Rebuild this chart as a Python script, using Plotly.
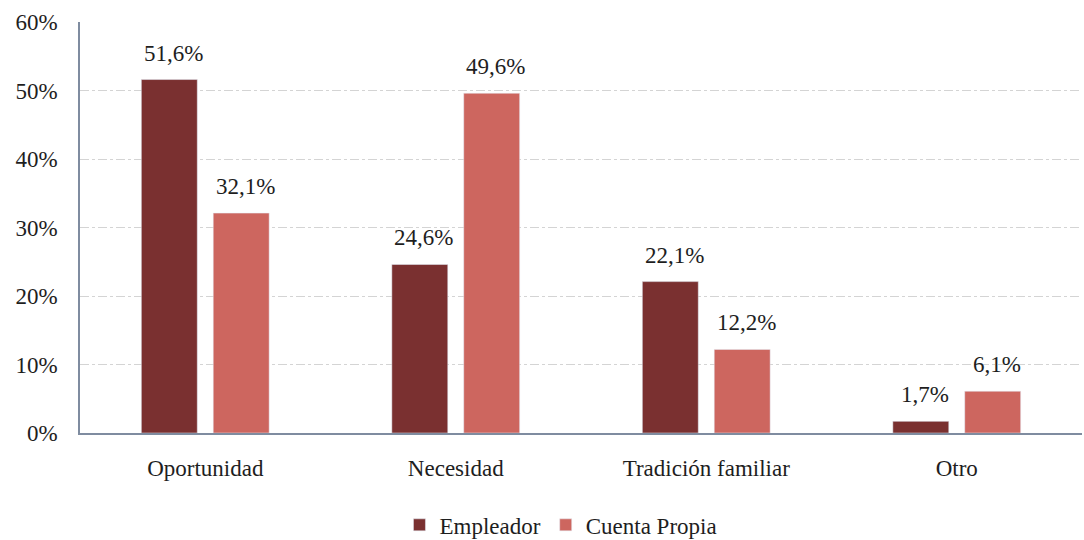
import plotly.graph_objects as go

categories = ["Oportunidad", "Necesidad", "Tradición familiar", "Otro"]
empleador = [51.6, 24.6, 22.1, 1.7]
cuenta_propia = [32.1, 49.6, 12.2, 6.1]
y_ticks = [0, 10, 20, 30, 40, 50, 60]

FONT = "Liberation Serif"
C1 = "#7A3030"
C2 = "#CD665F"
TXT = "#1E1E1E"
SIZE = 23

def fmt(v):
    return f"{v:.1f}%".replace(".", ",")

fig = go.Figure()
fig.add_trace(go.Bar(name="Empleador", x=categories, y=empleador, marker_color=C1,
                     offsetgroup="a"))
fig.add_trace(go.Bar(name="Cuenta Propia", x=categories, y=cuenta_propia, marker_color=C2,
                     offsetgroup="b"))

for i, c in enumerate(categories):
    for vals, off in ((empleador, -0.5), (cuenta_propia, 0.5)):
        fig.add_annotation(x=c, y=vals[i], text=fmt(vals[i]), showarrow=False,
                           xref="x", yref="y", yanchor="bottom", yshift=12,
                           xshift=off * 72 + 4,
                           font=dict(family=FONT, size=SIZE, color=TXT))

fig.update_layout(
    width=1084, height=540,
    margin=dict(l=80, r=2, t=22, b=107, autoexpand=False),
    paper_bgcolor="white", plot_bgcolor="white",
    barmode="group", bargap=0.426, bargroupgap=0.222,
    font=dict(family=FONT, size=SIZE, color=TXT),
    legend=dict(orientation="h", x=0.48, xanchor="center",
                yref="container", y=0.028, yanchor="middle",
                font=dict(family=FONT, size=SIZE, color=TXT),
                traceorder="normal"),
    showlegend=True,
)
fig.update_yaxes(range=[0, 60], tickvals=y_ticks, ticktext=[f"{v}%" for v in y_ticks],
                 showgrid=True, gridcolor="#D4D4D4", griddash="dashdot", gridwidth=1,
                 showline=True, linecolor="#7F8CA0", linewidth=1.5,
                 ticks="outside", ticklen=0, ticklabelstandoff=16, zeroline=False,
                 tickfont=dict(family=FONT, size=SIZE, color=TXT))
fig.update_xaxes(showline=True, linecolor="#7F8CA0", linewidth=1.5,
                 ticks="outside", ticklen=0, ticklabelstandoff=14,
                 tickfont=dict(family=FONT, size=SIZE, color=TXT))

fig.write_html("out.html", config={"displayModeBar": False},
               post_script="document.body.style.margin='0';document.body.style.overflow='hidden';")
